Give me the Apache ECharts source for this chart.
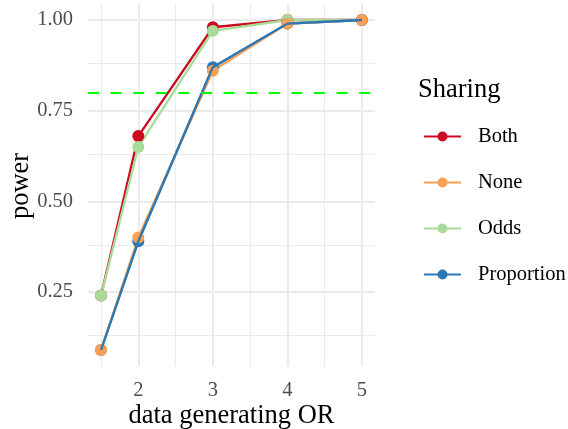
<!DOCTYPE html>
<html>
<head>
<meta charset="utf-8">
<script src="https://cdn.jsdelivr.net/npm/echarts@6/dist/echarts.min.js"></script>
<style>html,body{margin:0;padding:0;background:#fff;}#c{width:568px;height:429px;}</style>
</head>
<body>
<div id="c"></div>
<script>
const orValues = [1.5, 2, 3, 4, 5];
const both = [0.24, 0.68, 0.98, 1.00, 1.00];
const none = [0.09, 0.40, 0.86, 0.99, 1.00];
const odds = [0.24, 0.65, 0.97, 1.00, 1.00];
const proportion = [0.09, 0.39, 0.87, 0.99, 1.00];
const seriesNames = ['Both', 'None', 'Odds', 'Proportion'];
const colors = {Both: '#CC0B20', None: '#FDA055', Odds: '#A8DB98', Proportion: '#2A78B4'};
const xTicks = [2, 3, 4, 5];
const xMinor = [1.5, 2.5, 3.5, 4.5];
const yTicks = [0.25, 0.50, 0.75, 1.00];
const yMinor = [0.125, 0.375, 0.625, 0.875];
const threshold = 0.8;

const FONT = "'Liberation Serif', 'Times New Roman', serif";
const pairs = arr => orValues.map((x, i) => [x, arr[i]]);
const valuesByName = {Both: both, None: none, Odds: odds, Proportion: proportion};

function lineSeries(name, withSymbol, z) {
  return {
    type: 'line', name: name, data: pairs(valuesByName[name]),
    symbol: withSymbol ? 'circle' : 'none', symbolSize: 12, showSymbol: withSymbol,
    lineStyle: {width: 2.3, color: colors[name]},
    itemStyle: {color: colors[name], borderColor: colors[name], borderWidth: 0},
    z: z, animation: false, emphasis: {disabled: true}
  };
}

const gridLines = [];
xTicks.forEach(v => gridLines.push({xAxis: v, lineStyle: {width: 2.1}}));
xMinor.forEach(v => gridLines.push({xAxis: v, lineStyle: {width: 1.1}}));
yTicks.forEach(v => gridLines.push({yAxis: v, lineStyle: {width: 2.1}}));
yMinor.forEach(v => gridLines.push({yAxis: v, lineStyle: {width: 1.1}}));

const chart = echarts.init(document.getElementById('c'), null, {renderer: 'canvas'});
chart.setOption({
  animation: false,
  backgroundColor: '#ffffff',
  title: {
    text: 'Sharing', left: 418, top: 77, padding: 0,
    textStyle: {fontFamily: FONT, fontSize: 26.5, fontWeight: 'normal', color: '#000'}
  },
  graphic: [{
    type: 'text', x: 21, y: 186, rotation: Math.PI / 2, silent: true,
    style: {text: 'power', fontFamily: FONT, fontSize: 26.5, fill: '#000', align: 'center', verticalAlign: 'middle'}
  }],
  legend: {
    orient: 'vertical', left: 423, top: 126, padding: 0,
    itemWidth: 37, itemHeight: 12.5, itemGap: 25,
    data: seriesNames,
    textStyle: {fontFamily: FONT, fontSize: 20.5, color: '#000', lineHeight: 20, padding: [0, 0, 0, 12]}
  },
  grid: {left: 88, right: 193, top: 3.5, bottom: 62.5, containLabel: false, outerBoundsMode: 'none'},
  xAxis: {
    type: 'value', min: 1.325, max: 5.175,
    name: 'data generating OR', nameLocation: 'middle', nameGap: 36, nameMoveOverlap: false,
    nameTextStyle: {fontFamily: FONT, fontSize: 26.5, color: '#000'},
    axisLine: {show: false}, axisTick: {show: false}, splitLine: {show: false},
    axisLabel: {customValues: xTicks, fontFamily: FONT, fontSize: 20.5, color: '#4D4D4D', margin: 14}
  },
  yAxis: {
    type: 'value', min: 0.0445, max: 1.0455,
    axisLine: {show: false}, axisTick: {show: false}, splitLine: {show: false},
    axisLabel: {customValues: yTicks, fontFamily: FONT, fontSize: 20.5, color: '#4D4D4D', margin: 15,
      formatter: v => v.toFixed(2)}
  },
  series: [
    {
      type: 'line', name: 'grid', data: [], z: 0, silent: true,
      markLine: {
        silent: true, z: 0, symbol: ['none', 'none'], label: {show: false}, animation: false,
        lineStyle: {color: '#EBEBEB', type: 'solid'},
        data: gridLines
      }
    },
    lineSeries('Both', true, 2),
    lineSeries('Odds', true, 2),
    lineSeries('Proportion', true, 2),
    lineSeries('None', true, 2),
    Object.assign(lineSeries('Proportion', false, 3), {
      markLine: {
        silent: true, z: 5, symbol: ['none', 'none'], label: {show: false}, animation: false,
        lineStyle: {color: '#00FF00', type: [11, 11.6], width: 2},
        data: [{yAxis: threshold}]
      }
    })
  ]
});
</script>
</body>
</html>
